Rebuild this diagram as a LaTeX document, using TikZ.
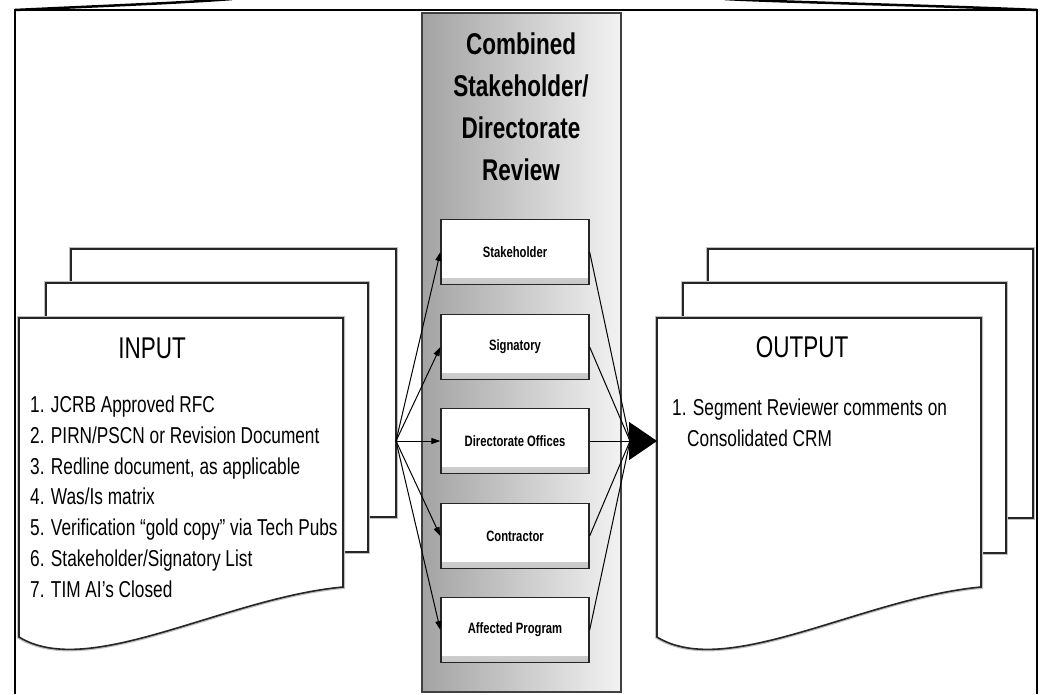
\documentclass[tikz,border=0pt]{standalone}
\usepackage{fontspec}
\setmainfont{Liberation Sans}
\newfontfamily\narrowfont[FakeStretch=0.75]{Liberation Sans}
\usetikzlibrary{arrows.meta}

\begin{document}
\begin{tikzpicture}[x=1pt,y=-1pt]
	\tikzset{page/.style={draw=black!85,line width=1.6pt,fill=white,preaction={draw=black!25,line width=4pt}}}
	\tikzset{revbox/.style={draw=black!85,line width=1.3pt,fill=white,minimum width=148pt,minimum height=65pt,inner sep=0pt,
		font=\narrowfont\bfseries\fontsize{15}{18}\selectfont,
		path picture={\shade[top color=white,bottom color=black!22] ([yshift=6pt]path picture bounding box.south west) rectangle (path picture bounding box.south east);}}}
	\tikzset{listtext/.style={font=\narrowfont\fontsize{23}{30.7}\selectfont,align=left,inner sep=0pt,anchor=north west}}
	\tikzset{headtext/.style={font=\narrowfont\fontsize{30}{36}\selectfont,inner sep=0pt}}
	\tikzset{feed/.style={line width=1pt,-{Triangle[length=9pt,width=6pt]}}}
	\tikzset{mergeline/.style={line width=1pt}}
	\useasboundingbox (0,0) rectangle (1040,694);
	% frame, open at the bottom
	\draw[line width=1.5pt] (15,694) -- (15,10) -- (1037,10) -- (1037,694);
	\draw[line width=2.5pt] (15,10) .. controls (100,6) and (180,3) .. (232,-1);
	\draw[line width=2.5pt] (1037,10) .. controls (950,6) and (780,2) .. (725,-1);
	% review column
	\node[draw=black!75,line width=1.6pt,left color=black!36,right color=black!5,minimum width=199pt,minimum height=679pt,inner sep=0pt] (panel) at (521.5,352.5) {};
	\node[font=\narrowfont\bfseries\fontsize{30}{41.7}\selectfont,align=center,inner sep=0pt,anchor=north] (paneltitle) at (521,33) {Combined\\Stakeholder/\\Directorate\\Review};
	\node[revbox] (stake) at (515,252) {Stakeholder};
	\node[revbox] (sign) at (515,347) {Signatory};
	\node[revbox] (dir) at (515,441) {Directorate Offices};
	\node[revbox] (contr) at (515,536) {Contractor};
	\node[revbox] (affect) at (515,630) {Affected Program};
	% input pages
	\draw[page] (71,249) rectangle (396,517);
	\draw[page] (46,283) rectangle (368,552);
	\draw[page] (19,318) -- (343,318) -- (343,587) .. controls (224,598) and (89,680) .. (19,637) -- cycle;
	\node[headtext] (intitle) at (152,348) {INPUT};
	\node[listtext] (inlist) at (30,396) {1. JCRB Approved RFC\\2. PIRN/PSCN or Revision Document\\3. Redline document, as applicable\\4. Was/Is matrix\\5. Verification “gold copy” via Tech Pubs\\6. Stakeholder/Signatory List\\7. TIM AI’s Closed};
	% output pages
	\draw[page] (708,249) rectangle (1033,518);
	\draw[page] (683,283) rectangle (1006,553);
	\draw[page] (657,318) -- (981,318) -- (981,587) .. controls (862,598) and (727,680) .. (657,637) -- cycle;
	\node[headtext] (outtitle) at (802,347) {OUTPUT};
	\node[listtext] (outlist) at (672,399) {1. Segment Reviewer comments on\\\hspace*{15pt}Consolidated CRM};
	% connectors
	\coordinate (split) at (396,441);
	\coordinate (merge) at (630,441);
	\coordinate (outdoc) at (657,441);
	\draw[feed] (split) -- (stake.west);
	\draw[feed] (split) -- (sign.west);
	\draw[feed] (split) -- (dir.west);
	\draw[feed] (split) -- (contr.west);
	\draw[feed] (split) -- (affect.west);
	\draw[mergeline] (stake.east) -- (merge);
	\draw[mergeline] (sign.east) -- (merge);
	\draw[mergeline] (contr.east) -- (merge);
	\draw[mergeline] (affect.east) -- (merge);
	\draw[mergeline,-{Triangle[length=28pt,width=38pt]}] (dir.east) -- (outdoc);
\end{tikzpicture}
\end{document}
